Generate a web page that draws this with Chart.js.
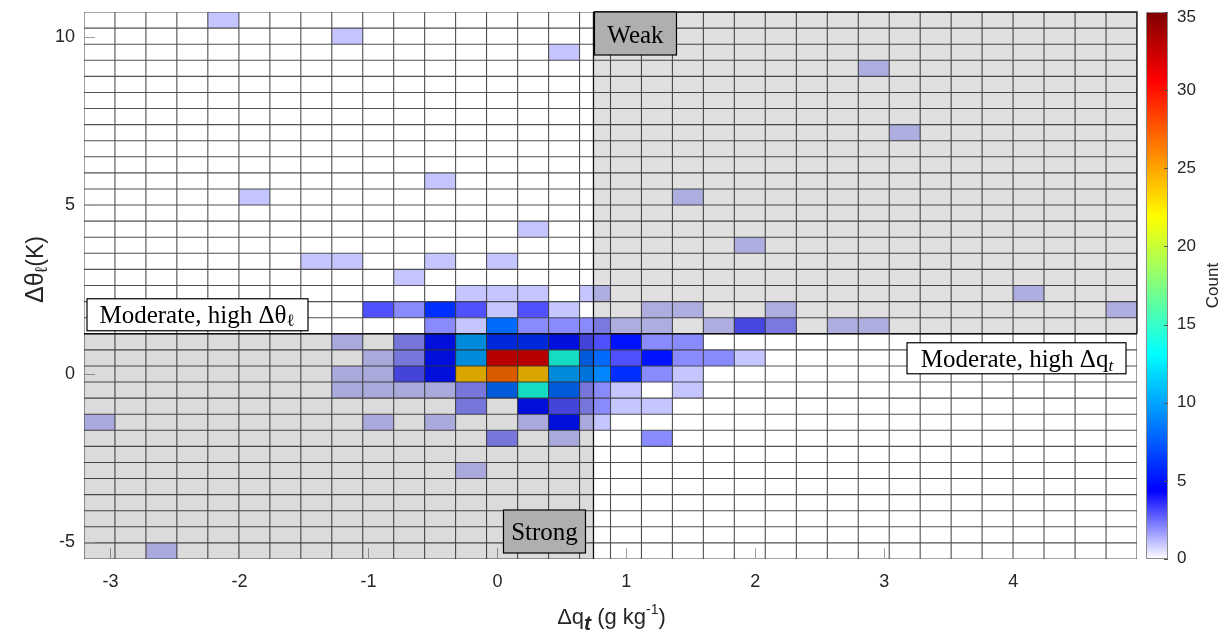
<!DOCTYPE html>
<html><head><meta charset="utf-8">
<script src="https://cdn.jsdelivr.net/npm/chart.js@4.4.0/dist/chart.umd.min.js"></script>
<style>html,body{margin:0;padding:0;background:#fff;}#wrap{width:1228px;height:641px;}</style>
</head><body><div id="wrap"><canvas id="c" width="1228" height="641"></canvas></div>
<script>
// ---- data ----
const qtEdges = [-3.205,-2.965,-2.725,-2.485,-2.245,-2.004,-1.764,-1.524,-1.284,-1.044,-0.804,-0.564,-0.324,-0.084,0.157,0.397,0.637,0.877,1.117,1.357,1.597,1.837,2.077,2.318,2.558,2.798,3.038,3.278,3.518,3.758,3.998,4.238,4.479,4.719,4.959];
const thetaEdges = [-5.5,-5.0225,-4.545,-4.0675,-3.59,-3.1125,-2.635,-2.1575,-1.68,-1.2025,-0.725,-0.2475,0.23,0.7075,1.185,1.6625,2.14,2.6175,3.095,3.5725,4.05,4.5275,5.005,5.4825,5.96,6.4375,6.915,7.3925,7.87,8.3475,8.825,9.3025,9.78,10.2575,10.735];
const cellQtBin =    [4,8,15,25,26,11,5,19,14,21,7,8,11,13,10,12,13,14,16,30, 9,10,11,12,13,14,15,18,19,22,33, 11,12,13,14,15,16,17,18,20,21,22,24,25, 8,10,11,12,13,14,15,16,17,18,19, 9,10,11,12,13,14,15,16,17,18,19,20,21, 8,9,10,11,12,13,14,15,16,17,18,19, 8,9,10,11,12,13,14,15,16,17,19, 12,14,15,16,17,18, 0,9,11,14,15,16, 13,15,18, 12, 2];
const cellThetaBin = [33,32,31,30,26,23,22,22,20,19,18,18,18,18,17,16,16,16,16,16, 15,15,15,15,15,15,15,15,15,15,15, 14,14,14,14,14,14,14,14,14,14,14,14,14, 13,13,13,13,13,13,13,13,13,13,13, 12,12,12,12,12,12,12,12,12,12,12,12,12, 11,11,11,11,11,11,11,11,11,11,11,11, 10,10,10,10,10,10,10,10,10,10,10, 9,9,9,9,9,9, 8,8,8,8,8,8, 7,7,7, 5, 0];
const cellCount =    [1,1,1,1,1,1,1,1,1,1,1,1,1,1,1,1,1,1,1,1, 3,2,6,3,1,3,1,1,1,1,1, 2,1,8,2,2,2,1,1,1,3,2,1,1, 1,2,5,10,6,6,5,3,5,2,2, 1,2,5,10,32,32,14,8,3,5,2,2,1, 1,1,3,5,24,27,24,10,9,6,2,1, 1,1,1,1,2,8,14,8,2,1,1, 2,5,3,2,1,1, 1,1,1,1,5,1, 2,1,2, 1, 1];
const qtTicks = [-3,-2,-1,0,1,2,3,4];
const thetaTicks = [-5,0,5,10];
const countTicks = [0,5,10,15,20,25,30,35];
const countMax = 35;
const qtSplit = 0.745;
const thetaSplit = 1.185;

function countRGB(v){
  const t = Math.max(0, Math.min(1, v / countMax));
  if (t <= 1/8) { const w = Math.round(255 * (1 - t * 8)); return [w, w, 255]; }
  const cl = z => Math.max(0, Math.min(1, z));
  return [cl(1.5 - Math.abs(4*t - 3)), cl(1.5 - Math.abs(4*t - 2)), cl(1.5 - Math.abs(4*t - 1))].map(c => Math.round(c * 255));
}
const rgb = a => `rgb(${a[0]},${a[1]},${a[2]})`;

const SANS = '"Liberation Sans", Arial, sans-serif';
const SERIF = '"Liberation Serif", "Times New Roman", serif';

function drawRich(ctx, parts, x, y, align) {
  let w = 0;
  parts.forEach(p => { ctx.font = p[1]; w += ctx.measureText(p[0]).width; });
  let cx = align === 'center' ? x - w/2 : (align === 'right' ? x - w : x);
  ctx.textAlign = 'left';
  parts.forEach(p => { ctx.font = p[1]; ctx.fillText(p[0], cx, y + (p[2]||0)); cx += ctx.measureText(p[0]).width; });
  return w;
}

const heatPlugin = {
  id: 'heat',
  beforeDatasetsDraw(chart) {
    const {ctx, chartArea: a, scales: {x, y}} = chart;
    ctx.save();
    ctx.beginPath(); ctx.rect(a.left, a.top, a.right - a.left, a.bottom - a.top); ctx.clip();
    ctx.fillStyle = '#fff'; ctx.fillRect(a.left, a.top, a.right - a.left, a.bottom - a.top);
    for (let i = 0; i < cellCount.length; i++) {
      const qi = cellQtBin[i], ti = cellThetaBin[i];
      const x0 = x.getPixelForValue(qtEdges[qi]), x1 = x.getPixelForValue(qtEdges[qi+1]);
      const y0 = y.getPixelForValue(thetaEdges[ti+1]), y1 = y.getPixelForValue(thetaEdges[ti]);
      ctx.fillStyle = rgb(countRGB(cellCount[i]));
      ctx.fillRect(x0, y0, x1 - x0, y1 - y0);
    }
    ctx.strokeStyle = 'rgba(50,50,50,0.85)'; ctx.lineWidth = 1.1;
    ctx.beginPath();
    qtEdges.forEach(v => { const px = x.getPixelForValue(v); ctx.moveTo(px, a.top); ctx.lineTo(px, a.bottom); });
    thetaEdges.forEach(v => { const py = y.getPixelForValue(v); ctx.moveTo(a.left, py); ctx.lineTo(a.right, py); });
    ctx.stroke();
    ctx.strokeStyle = '#a0a0a0'; ctx.lineWidth = 1;
    ctx.beginPath();
    qtTicks.forEach(v => { const px = Math.round(x.getPixelForValue(v)) + 0.5; ctx.moveTo(px, a.bottom); ctx.lineTo(px, a.bottom - 11); });
    thetaTicks.forEach(v => { const py = Math.round(y.getPixelForValue(v)) + 0.5; ctx.moveTo(a.left, py); ctx.lineTo(a.left + 11, py); });
    ctx.stroke();
    const sx = x.getPixelForValue(qtSplit), sy = y.getPixelForValue(thetaSplit);
    ctx.fillStyle = 'rgba(0,0,0,0.12)';
    ctx.fillRect(sx, a.top, a.right - sx, sy - a.top);
    ctx.fillStyle = 'rgba(0,0,0,0.14)';
    ctx.fillRect(a.left, sy, sx - a.left, a.bottom - sy);
    ctx.restore();
    ctx.save();
    ctx.strokeStyle = '#111'; ctx.lineWidth = 1.3;
    ctx.beginPath();
    ctx.moveTo(sx, a.top); ctx.lineTo(sx, a.bottom);
    ctx.moveTo(a.left, sy); ctx.lineTo(a.right, sy);
    ctx.moveTo(sx, a.top); ctx.lineTo(a.right, a.top); ctx.lineTo(a.right, sy);
    ctx.stroke();
    ctx.restore();
  },
  afterDraw(chart) {
    const {ctx, chartArea: a, scales: {x, y}} = chart;
    const sx = x.getPixelForValue(qtSplit), sy = y.getPixelForValue(thetaSplit);
    ctx.save();
    ctx.textBaseline = 'alphabetic';
    const box = (bx, by, bw, bh, fill) => {
      ctx.fillStyle = fill; ctx.fillRect(bx, by, bw, bh);
      ctx.strokeStyle = '#000'; ctx.lineWidth = 1.2; ctx.strokeRect(bx, by, bw, bh);
      ctx.fillStyle = '#000';
    };
    const F = SERIF;
    box(sx + 1, a.top, 82, 43, '#b1aeae');
    drawRich(ctx, [['Weak', `25px ${F}`]], sx + 42, a.top + 31, 'center');
    box(sx - 90, a.bottom - 49, 82, 43, '#b1aeae');
    drawRich(ctx, [['Strong', `25px ${F}`]], sx - 49, a.bottom - 19, 'center');
    box(a.left + 3, sy - 35, 221, 32, '#fff');
    drawRich(ctx, [['Moderate, high Δθ', `25px ${F}`], ['ℓ', `17px ${F}`, 3]], a.left + 113, sy - 11, 'center');
    box(a.right - 230, sy + 9, 219, 31, '#fff');
    drawRich(ctx, [['Moderate, high Δq', `25px ${F}`], ['t', `italic 17px ${F}`, 4]], a.right - 120, sy + 33, 'center');

    ctx.fillStyle = '#262626';
    drawRich(ctx, [['Δq', `22px ${SANS}`], ['t', `bold italic 21px ${SANS}`, 6], [' (g kg', `22px ${SANS}`], ['-1', `14px ${SANS}`, -10], [')', `22px ${SANS}`]], (a.left + a.right)/2 + 1, 624, 'center');
    ctx.save();
    ctx.translate(43, (a.top + a.bottom)/2 - 16);
    ctx.rotate(-Math.PI/2);
    drawRich(ctx, [['Δθ', `25px ${SANS}`], ['ℓ', `17px ${SANS}`, 4], ['(K)', `23px ${SANS}`]], 0, 0, 'center');
    ctx.restore();

    const cbL = a.right + 9, cbR = a.right + 31, cbT = a.top, cbB = a.bottom;
    for (let py = cbT; py < cbB; py++) {
      const v = countMax * (cbB - py - 0.5) / (cbB - cbT);
      ctx.fillStyle = rgb(countRGB(v));
      ctx.fillRect(cbL, py, cbR - cbL, 1);
    }
    ctx.strokeStyle = '#8c8c8c'; ctx.lineWidth = 1;
    ctx.strokeRect(cbL + 0.5, cbT + 0.5, cbR - cbL - 1, cbB - cbT - 1);
    ctx.fillStyle = '#262626';
    ctx.font = `17px ${SANS}`;
    ctx.textAlign = 'left'; ctx.textBaseline = 'middle';
    ctx.strokeStyle = '#555';
    countTicks.forEach(v => {
      const py = cbB - (cbB - cbT) * v / countMax;
      ctx.beginPath(); ctx.moveTo(cbR - 4, Math.round(py) + 0.5); ctx.lineTo(cbR, Math.round(py) + 0.5); ctx.stroke();
      ctx.fillText(String(v), cbR + 9, py + (v === countMax ? 5 : (v === 0 ? -1 : 0)));
    });
    ctx.save();
    ctx.translate(a.right + 76, (a.top + a.bottom)/2);
    ctx.rotate(-Math.PI/2);
    ctx.textAlign = 'center'; ctx.textBaseline = 'middle';
    ctx.font = `17px ${SANS}`;
    ctx.fillText('Count', 0, 0);
    ctx.restore();
    ctx.restore();
  }
};

const tickFont = {family: '"Liberation Sans", Arial, sans-serif', size: 18};
const noPad = s => { s.paddingTop = 0; s.paddingBottom = 0; s.paddingLeft = 0; s.paddingRight = 0; };
new Chart(document.getElementById('c'), {
  type: 'scatter',
  data: {datasets: [{
    data: cellCount.map((c, i) => ({x: (qtEdges[cellQtBin[i]] + qtEdges[cellQtBin[i]+1]) / 2, y: (thetaEdges[cellThetaBin[i]] + thetaEdges[cellThetaBin[i]+1]) / 2})),
    pointRadius: 0, pointHoverRadius: 0
  }]},
  options: {
    responsive: false, animation: false, devicePixelRatio: 1,
    layout: {padding: {left: 0, top: 12, right: 91, bottom: 0}},
    plugins: {legend: {display: false}, tooltip: {enabled: false}},
    scales: {
      x: {type: 'linear', min: qtEdges[0], max: qtEdges[qtEdges.length-1],
          afterBuildTicks: s => { s.ticks = qtTicks.map(v => ({value: v})); },
          afterFit: s => { s.height = 82; noPad(s); },
          grid: {display: false, drawTicks: false}, border: {display: false},
          ticks: {font: tickFont, color: '#262626', padding: 12, maxRotation: 0, autoSkip: false}},
      y: {type: 'linear', min: thetaEdges[0], max: thetaEdges[thetaEdges.length-1],
          afterBuildTicks: s => { s.ticks = thetaTicks.map(v => ({value: v})); },
          afterFit: s => { s.width = 84; noPad(s); },
          grid: {display: false, drawTicks: false}, border: {display: false},
          ticks: {font: tickFont, color: '#262626', padding: 9, autoSkip: false}}
    }
  },
  plugins: [heatPlugin]
});
</script></body></html>
